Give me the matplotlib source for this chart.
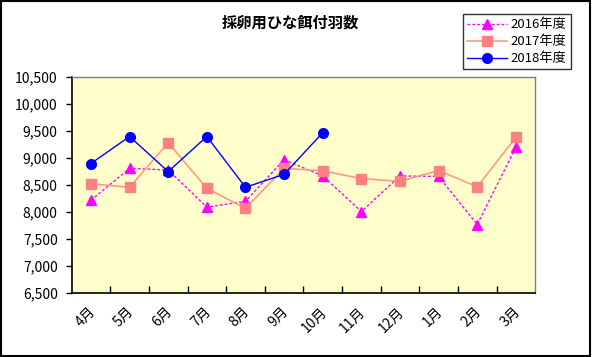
import matplotlib
matplotlib.use("Agg")
import matplotlib.pyplot as plt
from matplotlib.patches import Rectangle
from matplotlib.ticker import FuncFormatter, MultipleLocator

plt.rcParams["font.family"] = ["Noto Sans CJK JP", "DejaVu Sans"]

months = ["4月", "5月", "6月", "7月", "8月", "9月", "10月", "11月", "12月", "1月", "2月", "3月"]
series_labels = ["2016年度", "2017年度", "2018年度"]
values_2016 = [8220, 8810, 8780, 8090, 8200, 8970, 8670, 8010, 8670, 8660, 7770, 9200]
values_2017 = [8525, 8460, 9285, 8440, 8070, 8810, 8765, 8620, 8570, 8770, 8470, 9385]
values_2018 = [8900, 9400, 8750, 9400, 8460, 8700, 9470]

fig = plt.figure(figsize=(5.92, 3.57), dpi=100)
fig.patch.set_facecolor("white")
fig.add_artist(Rectangle((0.002, 0.003), 0.995, 0.994, transform=fig.transFigure,
                         fill=False, edgecolor="black", linewidth=1.5))

ax = fig.add_axes([0.121, 0.179, 0.783, 0.605])
ax.set_facecolor("#FFFFCC")

x_all = list(range(len(months)))
ax.plot(x_all, values_2016, color="#FF00FF", linestyle=(0, (2, 1.5)), linewidth=1,
        marker="^", markersize=7, label=series_labels[0])
ax.plot(x_all, values_2017, color="#FF9A80", linewidth=1.2,
        marker="s", markersize=7, markerfacecolor="#FF8080", markeredgecolor="#FF8080",
        label=series_labels[1])
ax.plot(x_all[:len(values_2018)], values_2018, color="#0000FF", linewidth=1,
        marker="o", markersize=7, label=series_labels[2])

ax.set_xlim(-0.5, len(months) - 0.5)
ax.set_ylim(6500, 10500)
ax.yaxis.set_major_locator(MultipleLocator(500))
ax.yaxis.set_major_formatter(FuncFormatter(lambda v, _: f"{int(v):,}"))
ax.tick_params(axis="y", direction="out", length=4, width=1, labelsize=10, pad=6)

ax.set_xticks([i + 0.5 for i in range(len(months) - 1)])
ax.set_xticklabels([])
ax.tick_params(axis="x", direction="in", length=5, width=1)
for i, m in enumerate(months):
    ax.text(i + 0.05, -0.075, m, transform=ax.get_xaxis_transform(), rotation=45,
            rotation_mode="anchor", ha="right", va="center", fontsize=10)

for side in ("left", "bottom"):
    ax.spines[side].set_color("black")
    ax.spines[side].set_linewidth(1.2)
for side in ("top", "right"):
    ax.spines[side].set_color("#808080")
    ax.spines[side].set_linewidth(1)

fig.text(0.49, 0.938, "採卵用ひな餌付羽数", ha="center", va="center",
         fontsize=11, fontweight="bold")

leg = fig.legend(loc="upper right", bbox_to_anchor=(0.975, 0.978), frameon=True,
                 fancybox=False, edgecolor="black", fontsize=9.5, handlelength=3.0,
                 borderpad=0.3, labelspacing=0.3, handletextpad=0.3)
leg.get_frame().set_linewidth(1)

fig.savefig("out.png", dpi=100)
plt.close(fig)
